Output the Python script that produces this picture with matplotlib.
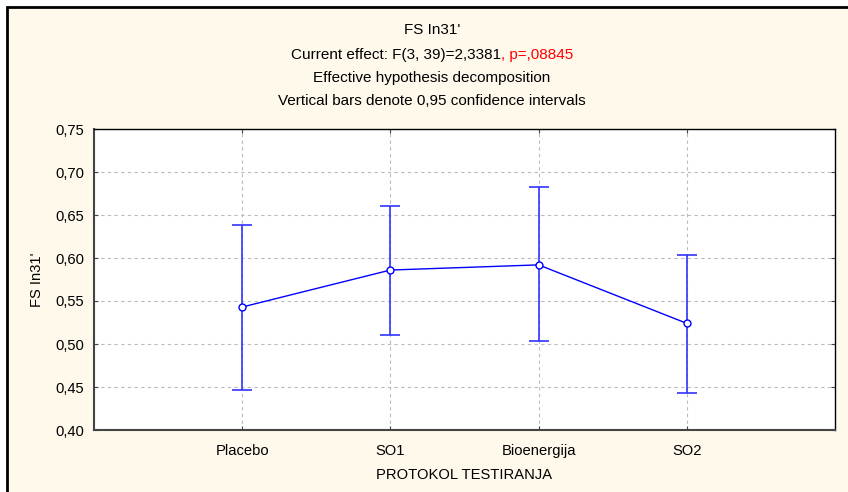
import matplotlib
matplotlib.use("Agg")
import matplotlib.pyplot as plt
from matplotlib.patches import Rectangle

categories = ["Placebo", "SO1", "Bioenergija", "SO2"]
means = [0.543, 0.586, 0.592, 0.524]
ci_upper = [0.638, 0.661, 0.682, 0.604]
ci_lower = [0.447, 0.510, 0.503, 0.443]
yticks = [0.40, 0.45, 0.50, 0.55, 0.60, 0.65, 0.70, 0.75]
ytick_labels = ["0,40", "0,45", "0,50", "0,55", "0,60", "0,65", "0,70", "0,75"]

plt.rcParams['font.family'] = ['Liberation Sans', 'DejaVu Sans']

W, H = 848, 492
fig = plt.figure(figsize=(W / 100, H / 100), dpi=100)
fig.patch.set_facecolor('white')

bg = '#FFF9EC'
frame = Rectangle((7 / W, -0.01), 1.05, (H - 7) / H + 0.01, transform=fig.transFigure,
                  facecolor=bg, edgecolor='black', linewidth=2, zorder=-10)
fig.patches.append(frame)

ax = fig.add_axes([94 / W, (H - 430) / H, (835 - 94) / W, (430 - 129) / H])
ax.set_facecolor('white')

x = list(range(1, len(categories) + 1))
yerr_low = [m - l for m, l in zip(means, ci_lower)]
yerr_high = [u - m for m, u in zip(means, ci_upper)]

ax.errorbar(x, means, yerr=[yerr_low, yerr_high], fmt='none', ecolor='#3333FF',
            elinewidth=1.2, capsize=7, capthick=1.2, zorder=3)
ax.plot(x, means, color='#0000FF', linewidth=1.0, marker='o', markersize=5,
        markerfacecolor='white', markeredgecolor='#0000FF', markeredgewidth=1.0, zorder=4)

fs = 10.6
ax.set_xlim(0, 5)
ax.set_ylim(0.40, 0.75)
ax.set_xticks(x)
ax.set_xticklabels(categories, fontsize=fs)
ax.set_yticks(yticks)
ax.set_yticklabels(ytick_labels, fontsize=fs)
ax.grid(True, color='#BBBBBB', linestyle=(0, (3, 3)), linewidth=0.8)
ax.set_axisbelow(True)
ax.tick_params(axis='both', direction='in', length=3, color='#444444', right=True, top=True)
ax.tick_params(axis='x', pad=10)
ax.tick_params(axis='y', pad=7)
for s in ax.spines.values():
    s.set_color('black')
    s.set_linewidth(1.0)
ax.spines['left'].set_color('#444444')
ax.spines['bottom'].set_color('#444444')
ax.spines['left'].set_linewidth(1.5)
ax.spines['bottom'].set_linewidth(1.5)

ax.set_ylabel("FS In31'", fontsize=fs, labelpad=8)
ax.set_xlabel("PROTOKOL TESTIRANJA", fontsize=fs, labelpad=7)

tfs = 11
cx = 432 / W
fig.text(cx, 1 - 30 / H, "FS In31'", ha='center', va='center', fontsize=tfs)
t1 = fig.text(cx, 1 - 55 / H, "Current effect: F(3, 39)=2,3381", ha='right', va='center', fontsize=tfs)
fig.canvas.draw()
r = fig.canvas.get_renderer()
t2 = fig.text(0, 1 - 55 / H, ", p=,08845", ha='left', va='center', fontsize=tfs, color='#FF0000')
w1 = t1.get_window_extent(r).width / W
w2 = t2.get_window_extent(r).width / W
start = cx - (w1 + w2) / 2
t1.set_x(start + w1)
t2.set_x(start + w1)
fig.text(cx, 1 - 78 / H, "Effective hypothesis decomposition", ha='center', va='center', fontsize=tfs)
fig.text(cx, 1 - 101 / H, "Vertical bars denote 0,95 confidence intervals", ha='center', va='center', fontsize=tfs)

fig.savefig("out.png", dpi=100, facecolor=fig.get_facecolor())
